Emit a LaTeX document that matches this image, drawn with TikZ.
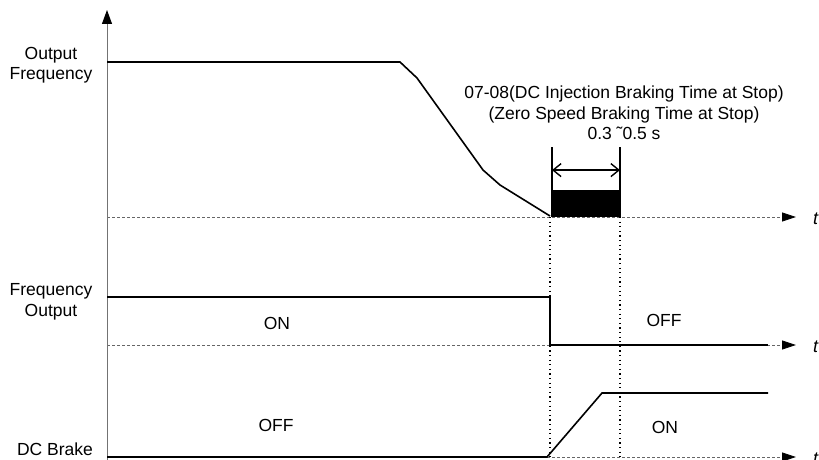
\documentclass[tikz,border=0pt]{standalone}
\usepackage{fontspec}
\setmainfont{Liberation Sans}
\usetikzlibrary{arrows.meta,positioning,calc}

\begin{document}
\begin{tikzpicture}[
    x=1pt, y=-1pt,
    lbl/.style={font=\fontsize{17.5}{20.5}\selectfont, align=center, inner sep=0pt},
    tlbl/.style={font=\fontsize{18}{20}\selectfont\itshape, anchor=west, inner sep=0pt},
    axis/.style={draw=black!55, line width=0.9pt, -{Triangle[length=14pt,width=10pt,black]}},
    base/.style={draw=black!60, line width=0.8pt, dash pattern=on 3pt off 2pt, -{Triangle[length=14pt,width=9pt,black]}},
    signal/.style={line width=1.6pt},
    guide/.style={line width=1.1pt, dash pattern=on 1.2pt off 3.4pt},
    span/.style={line width=1.4pt, {Straight Barb[length=8pt,width=13pt]}-{Straight Barb[length=8pt,width=13pt]}}
]
    \useasboundingbox (0,0) rectangle (819,460);

    % time axes
    \coordinate (o) at (107,460);
    \coordinate (otop) at (107,10);
    \coordinate (f0) at (107,217);
    \coordinate (f0end) at (796,217);
    \coordinate (q0) at (107,345);
    \coordinate (q0end) at (796,345);
    \coordinate (b0) at (107,457);
    \coordinate (b0end) at (796,457);

    % output frequency
    \coordinate (fa) at (107,62);
    \coordinate (fb) at (400,62);
    \coordinate (fc) at (417,78);
    \coordinate (fd) at (483,170);
    \coordinate (fe) at (500,185);
    \coordinate (stop) at (550,216);

    % braking window
    \coordinate (wl) at (552,147);
    \coordinate (wr) at (620,147);
    \coordinate (wlb) at (552,217);
    \coordinate (wrb) at (620,217);

    % frequency output and dc brake
    \coordinate (qa) at (107,297);
    \coordinate (qb) at (550,297);
    \coordinate (qc) at (550,345);
    \coordinate (qd) at (768,345);
    \coordinate (ba) at (547,457);
    \coordinate (bb) at (602,393);
    \coordinate (bc) at (768,393);

    \draw[base] (f0) -- (f0end);
    \draw[base] (q0) -- (q0end);
    \draw[base] (b0) -- (b0end);
    \draw[axis] (o) -- (otop);

    \node[tlbl] (t1) at (813,219) {t};
    \node[tlbl] (t2) at (813,347) {t};
    \node[tlbl] (t3) at (813,459) {t};

    \draw[guide] (stop |- f0) -- (stop |- o);
    \draw[guide] (wrb) -- (wrb |- o);

    \draw[signal] (fa) -- (fb) -- (fc) -- (fd) -- (fe) -- (stop);
    \fill (wlb) rectangle (620,190);
    \draw[line width=1.4pt] (wl) -- (wlb);
    \draw[line width=1.4pt] (wr) -- (wrb);
    \draw[span] ($(wl)!0.33!(wlb)$) -- ($(wr)!0.33!(wrb)$);

    \draw[signal] (qa) -- (qb) -- (qc) -- (qd);
    \draw[signal] (b0) -- (ba) -- (bb) -- (bc);

    \node[lbl] (outfreq) at (51,65) {Output\\Frequency};
    \node[lbl] (freqout) at (51,302) {Frequency\\Output};
    \node[lbl] (dcbrake) at (55,449) {DC Brake};
    \node[lbl] (note) at (624,113) {07-08(DC Injection Braking Time at Stop)\\(Zero Speed Braking Time at Stop)\\0.3 \symbol{"02DC}0.5 s};

    \node[lbl] (on1) at (277,323) {ON};
    \node[lbl] (off1) at (664,320) {OFF};
    \node[lbl] (off2) at (276,425) {OFF};
    \node[lbl] (on2) at (665,427) {ON};
\end{tikzpicture}
\end{document}
